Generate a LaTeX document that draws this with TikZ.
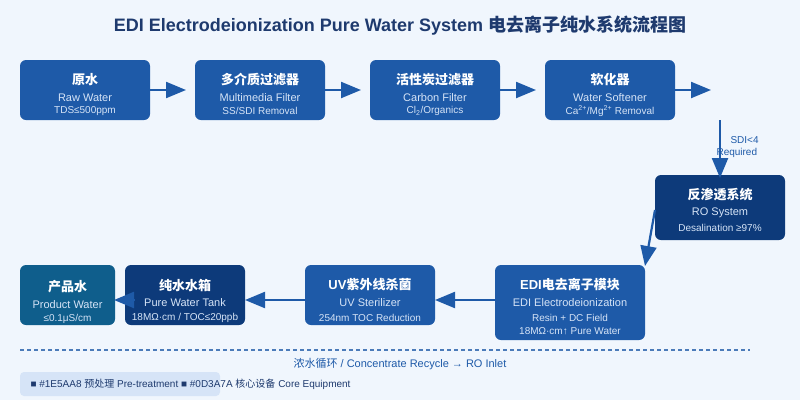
\documentclass[tikz,border=0pt]{standalone}
\usepackage{fontspec}
\setmainfont{Liberation Sans}
\newfontfamily\cjk{Noto Sans CJK SC}
\usetikzlibrary{arrows.meta}
\definecolor{pre}{HTML}{1E5AA8}
\definecolor{core}{HTML}{0D3A7A}
\definecolor{prod}{HTML}{0F5E8C}
\definecolor{bg}{HTML}{F0F6FD}
\definecolor{ttl}{HTML}{1E3A6E}
\definecolor{sub}{HTML}{D6E4F7}
\begin{document}
\begin{tikzpicture}[x=1pt,y=-1pt,
 box/.style={rounded corners=6pt,inner sep=0pt},
 t1/.style={font=\cjk\bfseries\fontsize{13}{15}\selectfont,text=white},
 t2/.style={font=\fontsize{11}{13}\selectfont,text=sub},
 t3/.style={font=\fontsize{10}{12}\selectfont,text=sub},
 arr/.style={draw=pre,line width=2.2pt,-{Triangle[length=20pt,width=16pt]}}]
\useasboundingbox (0,0) rectangle (800,400);
\fill[bg] (0,0) rectangle (800,400);
\node[font=\bfseries\fontsize{18}{21}\selectfont,text=ttl] (title) at (400,26) {EDI Electrodeionization Pure Water System {\cjk 电去离子纯水系统流程图}};
\newcommand\mybox[9]{%
 \fill[#4,rounded corners=6pt] (#2,#3) rectangle (#5,#6);
 \node[box] (#1) at ({(#2+#5)/2},{(#3+#6)/2}) {};
 \node[t1] (#1a) at ({(#2+#5)/2},#7) {#8};
 #9}
\mybox{raw}{20}{60}{pre}{150}{120}{80}{原水}{\node[t2] (rawb) at (85,98) {Raw Water};\node[t3] (rawc) at (85,111) {TDS≤500ppm};}
\mybox{mm}{195}{60}{pre}{325}{120}{80}{多介质过滤器}{\node[t2] (mmb) at (260,98) {Multimedia Filter};\node[t3] (mmc) at (260,111) {SS/SDI Removal};}
\mybox{cf}{370}{60}{pre}{500}{120}{80}{活性炭过滤器}{\node[t2] (cfb) at (435,98) {Carbon Filter};\node[t3] (cfc) at (435,111) {Cl\textsubscript{2}/Organics};}
\mybox{ws}{545}{60}{pre}{675}{120}{80}{软化器}{\node[t2] (wsb) at (610,98) {Water Softener};\node[t3] (wsc) at (610,111) {Ca\textsuperscript{2+}/Mg\textsuperscript{2+} Removal};}
\mybox{ro}{655}{175}{core}{785}{240}{195}{反渗透系统}{\node[t2] (rob) at (720,213) {RO System};\node[t3] (roc) at (720,228) {Desalination ≥97\%};}
\mybox{edi}{495}{265}{pre}{645}{340}{285}{\textrm{EDI}电去离子模块}{\node[t2] (edib) at (570,303) {EDI Electrodeionization};\node[t3] (edic) at (570,318) {Resin + DC Field};\node[t3] (edid) at (570,331) {18MΩ·cm↑ Pure Water};}
\mybox{uv}{305}{265}{pre}{435}{325}{285}{\textrm{UV}紫外线杀菌}{\node[t2] (uvb) at (370,303) {UV Sterilizer};\node[t3] (uvc) at (370,318) {254nm TOC Reduction};}
\mybox{tk}{125}{265}{core}{245}{325}{285}{纯水水箱}{\node[t2] (tkb) at (185,303) {Pure Water Tank};\node[t3] (tkc) at (185,318) {18MΩ·cm / TOC≤20ppb};}
\mybox{pw}{20}{265}{prod}{115}{325}{287}{产品水}{\node[t2] (pwb) at (67.5,305) {Product Water};\node[t3] (pwc) at (67.5,319) {≤0.1μS/cm};}
\coordinate (a1) at (150,90); \coordinate (a2) at (186,90);
\coordinate (b1) at (325,90); \coordinate (b2) at (361,90);
\coordinate (c1) at (500,90); \coordinate (c2) at (536,90);
\coordinate (d1) at (675,90); \coordinate (d2) at (711,90);
\draw[arr] (a1)--(a2); \draw[arr] (b1)--(b2); \draw[arr] (c1)--(c2); \draw[arr] (d1)--(d2);
\coordinate (v1) at (720,120); \coordinate (v2) at (720,178);
\draw[arr] (v1)--(v2);
\node[font=\fontsize{10}{12}\selectfont,text=pre,align=left,anchor=west] (sdi) at (713,147) {\hspace*{14pt}SDI<4\\Required};
\coordinate (r1) at (655,210); \coordinate (r2) at (645,266);
\draw[arr] (r1)--(r2);
\coordinate (e1) at (495,300); \coordinate (e2) at (435,300);
\coordinate (u1) at (305,300); \coordinate (u2) at (245,300);
\coordinate (k1) at (135,300); \coordinate (k2) at (114,300);
\draw[arr] (e1)--(e2); \draw[arr] (u1)--(u2); \draw[arr] (k1)--(k2);
\draw[pre!80,line width=1.5pt,dash pattern=on 4pt off 3pt] (20,350)--(750,350);
\node[font=\fontsize{11}{12}\selectfont,text=pre] (rec) at (400,364) {{\cjk 浓水循环} / Concentrate Recycle → RO Inlet};
\fill[sub,rounded corners=4pt] (20,372) rectangle (220,396);
\node[font=\fontsize{10}{11}\selectfont,text=ttl,anchor=west] (leg) at (27,384) {■ \#1E5AA8 {\cjk 预处理} Pre-treatment ■ \#0D3A7A {\cjk 核心设备} Core Equipment};
\end{tikzpicture}
\end{document}
